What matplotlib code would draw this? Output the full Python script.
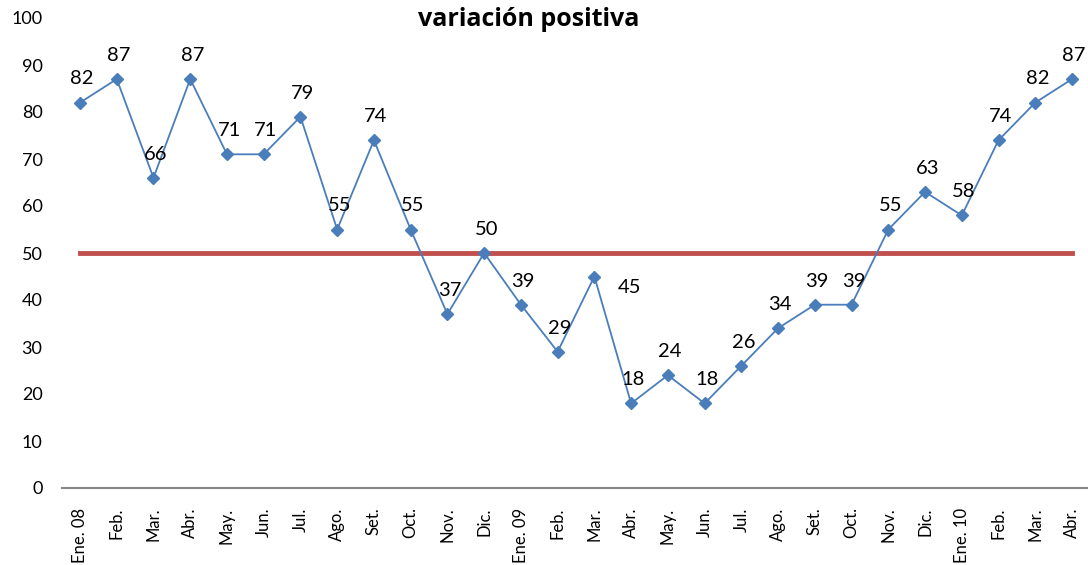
import matplotlib
matplotlib.use("Agg")
import matplotlib.pyplot as plt

# datos
meses = ["Ene. 08", "Feb.", "Mar.", "Abr.", "May.", "Jun.", "Jul.", "Ago.", "Set.", "Oct.", "Nov.", "Dic.",
         "Ene. 09", "Feb.", "Mar.", "Abr.", "May.", "Jun.", "Jul.", "Ago.", "Set.", "Oct.", "Nov.", "Dic.",
         "Ene. 10", "Feb.", "Mar.", "Abr."]
valores = [82, 87, 66, 87, 71, 71, 79, 55, 74, 55, 37, 50, 39, 29, 45, 18, 24, 18, 26, 34, 39, 39,
           55, 63, 58, 74, 82, 87]
referencia = [50] * len(meses)

plt.rcParams['font.family'] = ['Lato', 'DejaVu Sans']

fig = plt.figure(figsize=(10.88, 5.65), dpi=100)
ax = fig.add_axes([62 / 1088, 1 - 488 / 565, 1 - 62 / 1088, (488 - 18) / 565])

x = list(range(len(meses)))
ax.plot(x, referencia, color="#C0504D", lw=3.5, zorder=2)
ax.plot(x, valores, color="#4A7EBB", lw=1.3, marker="D", ms=6, zorder=3)

# etiquetas de datos (la de 45 va desplazada como en el original)
for i, v in enumerate(valores):
    if v == 45:
        dx, dy = 25, -8
    else:
        dx, dy = 1.5, 17
    ax.annotate(str(v), (i, v), xytext=(dx, dy), textcoords="offset points",
                ha="center", va="center", fontsize=14.5, color="black")

ax.set_ylim(0, 100)
ax.set_xlim(-0.49, 27.435)
ax.set_yticks(range(0, 101, 10))
ax.set_xticks(x)
ax.set_xticklabels(meses, rotation=90, fontsize=12)
ax.tick_params(axis="y", length=0, pad=14, labelsize=13)
ax.tick_params(axis="x", length=0, pad=14)
for s in ["left", "right", "top"]:
    ax.spines[s].set_visible(False)
ax.spines["bottom"].set_color("#868686")
ax.spines["bottom"].set_linewidth(1.5)

fig.text(529 / 1088, 1 - 19 / 565, "variación positiva", ha="center", va="center",
         fontsize=18, fontweight="bold", family=["Open Sans", "DejaVu Sans"])

fig.savefig("out.png", dpi=100)
